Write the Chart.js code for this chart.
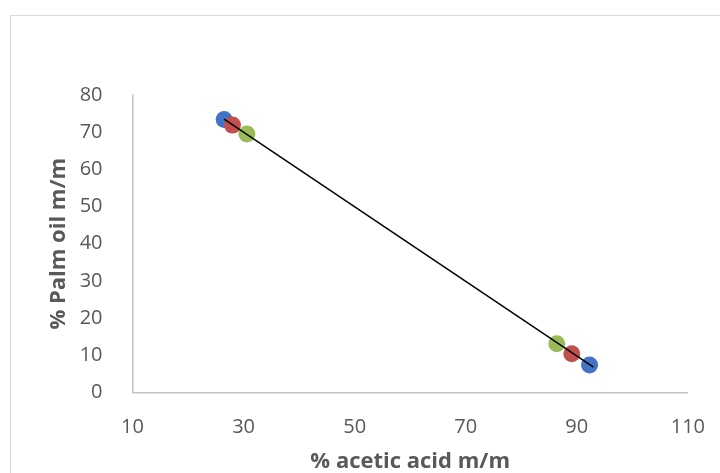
<!DOCTYPE html>
<html>
<head>
<meta charset="utf-8">
<script src="https://cdn.jsdelivr.net/npm/chart.js@4"></script>
<style>
  html, body { margin: 0; padding: 0; background: #fff; }
  #wrap { position: relative; width: 720px; height: 473px; overflow: hidden; }
  #frame { position: absolute; left: 10px; top: 15px; width: 760px; height: 520px; border: 1px solid #d9d9d9; }
  canvas { position: absolute; left: 0; top: 0; }
</style>
</head>
<body>
<div id="wrap">
  <div id="frame"></div>
  <canvas id="chart" width="720" height="473"></canvas>
</div>
<script>
  // valeurs
  const blueX = [26.5, 92.3];
  const blueY = [73.4, 7.4];
  const redX = [28.0, 89.1];
  const redY = [71.9, 10.4];
  const greenX = [30.6, 86.4];
  const greenY = [69.5, 13.1];
  const trendX = [26.5, 93.0];
  const trendY = [73.5, 6.8];

  const xTicks = [10, 30, 50, 70, 90, 110];
  const yTicks = [0, 10, 20, 30, 40, 50, 60, 70, 80];

  const pts = (xs, ys) => xs.map((x, i) => ({ x, y: ys[i] }));
  const grey = '#595959';
  const font = 'Open Sans';

  const dot = (data, color, order) => ({
    type: 'scatter', data, order,
    backgroundColor: color, borderWidth: 0,
    pointRadius: 8.5, pointHoverRadius: 8.5
  });

  new Chart(document.getElementById('chart').getContext('2d'), {
    data: {
      datasets: [
        { type: 'line', data: pts(trendX, trendY), order: 0, borderColor: '#000', borderWidth: 1.5, pointRadius: 0, fill: false, tension: 0 },
        dot(pts(greenX, greenY), '#9BBB59', 1),
        dot(pts(redX, redY), '#C0504D', 2),
        dot(pts(blueX, blueY), '#4472C4', 3)
      ]
    },
    options: {
      responsive: false,
      animation: false,
      layout: { padding: { top: 95, right: 32, left: 0, bottom: 0 } },
      plugins: { legend: { display: false }, tooltip: { enabled: false } },
      scales: {
        x: {
          type: 'linear', min: 10, max: 110,
          afterBuildTicks: s => { s.ticks = xTicks.map(v => ({ value: v })); },
          afterFit: s => { s.height = 80.5; },
          grid: { display: false },
          border: { display: true, color: '#c4c4c4', width: 1.5 },
          ticks: { color: grey, font: { family: font, size: 20 }, padding: 15 },
          title: { display: true, text: '% acetic acid m/m', color: grey, font: { family: font, size: 22, weight: 'bold', lineHeight: 1 }, padding: { top: 0, bottom: 0 } }
        },
        y: {
          type: 'linear', min: 0, max: 80,
          afterBuildTicks: s => { s.ticks = yTicks.map(v => ({ value: v })); },
          afterFit: s => { s.width = 132.5; },
          grid: { display: false },
          border: { display: true, color: '#c4c4c4', width: 1.5 },
          ticks: { color: grey, font: { family: font, size: 20 }, padding: 22 },
          title: { display: true, text: '% Palm oil m/m', color: grey, font: { family: font, size: 22, weight: 'bold', lineHeight: 1.2 }, padding: { top: 46, bottom: 0 } }
        }
      }
    }
  });
</script>
</body>
</html>
